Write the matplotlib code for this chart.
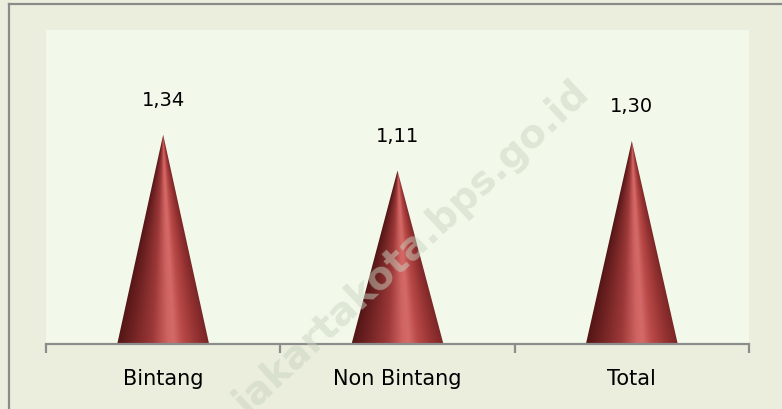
import numpy as np
import matplotlib.pyplot as plt
from matplotlib.patches import Polygon
from matplotlib.colors import LinearSegmentedColormap
from matplotlib.lines import Line2D

kategori = ['Bintang', 'Non Bintang', 'Total']
nilai = [1.34, 1.11, 1.30]

plt.rcParams['font.family'] = ['DejaVu Sans']

W, H = 782, 409
fig = plt.figure(figsize=(W / 100, H / 100), dpi=100)
fig.patch.set_facecolor('#EBEEDD')

# bingkai luar (kiri dan atas)
fig.add_artist(Line2D([9 / W, 9 / W], [0, 1 - 4 / H], color='#8a8a8a', lw=1.6,
                      transform=fig.transFigure))
fig.add_artist(Line2D([9 / W, 1], [1 - 4 / H, 1 - 4 / H], color='#8a8a8a', lw=1.6,
                      transform=fig.transFigure))

ax = fig.add_axes([46 / W, (H - 344) / H, (749 - 46) / W, (344 - 30) / H])
ax.set_facecolor('#F3F9EA')
ax.set_xlim(-0.5, len(kategori) - 0.5)
ax.set_ylim(0, 2.01)

# gradasi kerucut
cmap = LinearSegmentedColormap.from_list('kerucut', [
    (0.0, '#551616'), (0.15, '#6f2222'), (0.38, '#9c3838'),
    (0.55, '#cf6361'), (0.62, '#d46a68'), (0.72, '#b94a48'),
    (0.88, '#953232'), (1.0, '#7a2626')])

hw = 0.196
for i, v in enumerate(nilai):
    ny, nx = 300, 200
    yy = np.linspace(0, v, ny)
    xx = np.linspace(i - hw, i + hw, nx)
    X, Y = np.meshgrid(xx, yy)
    lebar = hw * np.clip(1 - Y / v, 1e-6, None)
    u = np.clip((X - i) / lebar * 0.5 + 0.5, 0, 1)
    im = ax.imshow(u, cmap=cmap, vmin=0, vmax=1, origin='lower', aspect='auto',
                   extent=(i - hw, i + hw, 0, v), zorder=2, interpolation='bilinear')
    tri = Polygon([(i - hw, 0), (i + hw, 0), (i, v)], closed=True,
                  facecolor='none', edgecolor='none')
    ax.add_patch(tri)
    im.set_clip_path(tri)
    ax.text(i, v + 0.22, f'{v:.2f}'.replace('.', ','), ha='center', va='center',
            fontsize=14, color='black')

for s in ['left', 'right', 'top']:
    ax.spines[s].set_visible(False)
ax.spines['bottom'].set_color('#8c8c8c')
ax.spines['bottom'].set_linewidth(1.6)
ax.spines['bottom'].set_zorder(3)

ax.set_yticks([])
ax.set_xticks(range(len(kategori)))
ax.set_xticklabels(kategori, fontsize=15)
ax.tick_params(axis='x', which='major', length=0, pad=18)
ax.set_xticks(np.arange(-0.5, len(kategori), 1.0), minor=True)
ax.tick_params(axis='x', which='minor', length=6.5, width=1.6, color='#8c8c8c',
               direction='out')

# watermark
fig.text(0.527, 0.39, 'jakartakota.bps.go.id', rotation=43, fontsize=28,
         fontweight='bold', color='#c9d3c0', alpha=0.5, ha='center', va='center',
         zorder=10)

fig.savefig('out.png', dpi=100, facecolor=fig.get_facecolor())
